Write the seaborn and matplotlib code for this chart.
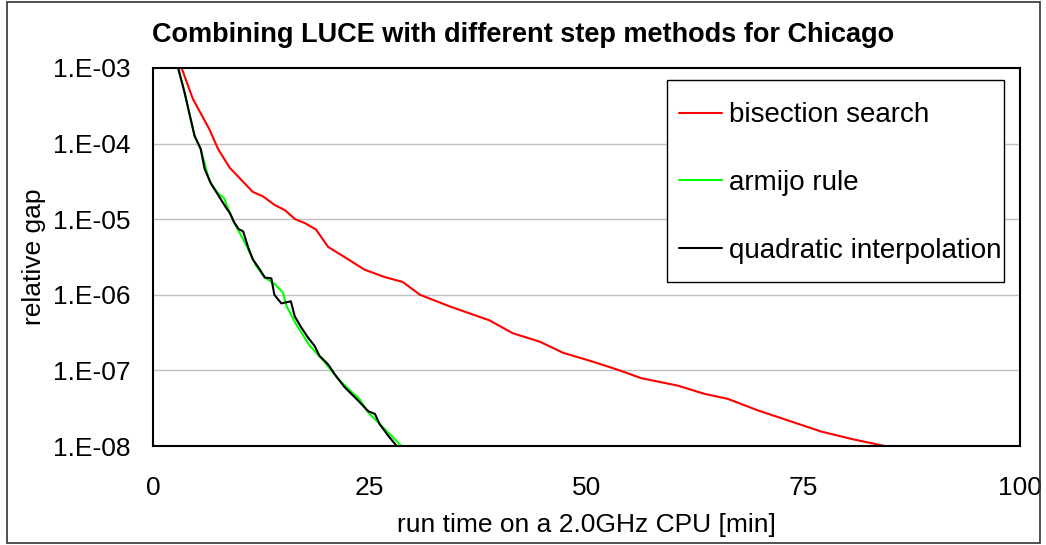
import numpy as np
import pandas as pd
import matplotlib
matplotlib.use("Agg")
import matplotlib.pyplot as plt
from matplotlib.patches import Rectangle
import seaborn as sns

# ---- data ----
bisect_x = [3.0, 3.3, 4.6, 6.5, 7.5, 8.85, 11.5, 12.7, 14.0, 15.2, 16.4, 17.5, 18.8, 20.2,
            22.2, 24.4, 26.7, 28.8, 30.8, 34.4, 38.8, 41.5, 44.6, 47.3, 50.4, 53.5, 56.3,
            60.5, 63.6, 66.3, 69.8, 73.4, 77.1, 80.7, 84.4]
bisect_y = [1.25e-3, 1.0e-3, 3.9e-4, 1.55e-4, 8.5e-5, 4.8e-5, 2.3e-5, 2.0e-5, 1.55e-5, 1.32e-5,
            1.0e-5, 8.9e-6, 7.3e-6, 4.3e-6, 3.1e-6, 2.15e-6, 1.72e-6, 1.48e-6, 1.0e-6, 6.9e-7,
            4.6e-7, 3.1e-7, 2.4e-7, 1.71e-7, 1.34e-7, 1.03e-7, 7.9e-8, 6.3e-8, 4.9e-8, 4.2e-8,
            2.95e-8, 2.15e-8, 1.55e-8, 1.23e-8, 1.0e-8]

armijo_x = [2.6, 2.9, 3.65, 4.23, 4.8, 5.5, 6.5, 7.5, 8.2, 8.85, 9.6, 10.6, 11.9, 12.9, 14.0,
            15.0, 15.4, 16.5, 18.1, 19.8, 21.3, 22.6, 23.8, 24.8, 26.9, 28.65]
armijo_y = [1.3e-3, 1.0e-3, 4.7e-4, 2.4e-4, 1.26e-4, 8.5e-5, 3.2e-5, 2.2e-5, 1.9e-5, 1.22e-5,
            8.0e-6, 4.9e-6, 2.4e-6, 1.69e-6, 1.4e-6, 1.07e-6, 7.1e-7, 4.1e-7, 2.1e-7, 1.29e-7,
            7.8e-8, 5.6e-8, 4.2e-8, 2.8e-8, 1.6e-8, 1.0e-8]

quad_x = [2.6, 2.9, 3.65, 4.23, 4.8, 5.5, 5.96, 6.73, 7.5, 8.46, 8.85, 9.35, 9.88, 10.4, 10.96,
          11.5, 12.3, 12.9, 13.65, 14.0, 14.8, 15.9, 16.35, 17.1, 17.9, 18.65, 19.2, 20.2,
          20.96, 22.1, 23.65, 24.8, 25.6, 26.15, 27.1, 28.1]
quad_y = [1.3e-3, 1.0e-3, 4.7e-4, 2.4e-4, 1.26e-4, 8.5e-5, 4.6e-5, 2.9e-5, 2.1e-5, 1.4e-5,
          1.22e-5, 9.1e-6, 7.4e-6, 6.9e-6, 4.3e-6, 2.96e-6, 2.18e-6, 1.69e-6, 1.65e-6, 1.0e-6,
          7.7e-7, 8.2e-7, 5.2e-7, 3.7e-7, 2.7e-7, 2.1e-7, 1.56e-7, 1.2e-7, 8.9e-8, 6.0e-8,
          4.0e-8, 2.9e-8, 2.65e-8, 1.94e-8, 1.38e-8, 1.0e-8]

series_names = ["bisection search", "armijo rule", "quadratic interpolation"]
series_colors = ["#FF0000", "#00FF00", "#000000"]
y_ticks = [1e-8, 1e-7, 1e-6, 1e-5, 1e-4, 1e-3]
y_tick_labels = ["1.E-08", "1.E-07", "1.E-06", "1.E-05", "1.E-04", "1.E-03"]
x_ticks = [0, 25, 50, 75, 100]
title = "Combining LUCE with different step methods for Chicago"
xlabel = "run time on a 2.0GHz CPU [min]"
ylabel = "relative gap"

df = pd.concat([
    pd.DataFrame({"x": bisect_x, "y": bisect_y, "method": series_names[0]}),
    pd.DataFrame({"x": armijo_x, "y": armijo_y, "method": series_names[1]}),
    pd.DataFrame({"x": quad_x, "y": quad_y, "method": series_names[2]}),
], ignore_index=True)

sns.set_style("white")
plt.rcParams["font.family"] = ["Liberation Sans", "DejaVu Sans"]
plt.rcParams["text.color"] = "black"
plt.rcParams["axes.labelcolor"] = "black"
plt.rcParams["xtick.color"] = "black"
plt.rcParams["ytick.color"] = "black"

W, H = 1046, 545
fig = plt.figure(figsize=(W / 100, H / 100), dpi=100)
ax = fig.add_axes([153 / W, 1 - 446 / H, (1020 - 153) / W, (446 - 68) / H])

sns.lineplot(data=df, x="x", y="y", hue="method", hue_order=series_names,
             palette=dict(zip(series_names, series_colors)), estimator=None,
             sort=False, linewidth=1.5, ax=ax)

ax.set_yscale("log")
ax.set_xlim(0, 100)
ax.set_ylim(1e-8, 1e-3)
ax.set_yticks(y_ticks)
ax.set_yticklabels(y_tick_labels)
ax.yaxis.set_minor_locator(matplotlib.ticker.NullLocator())
ax.set_xticks(x_ticks)
ax.set_xticklabels([str(t) for t in x_ticks])

ax.grid(False)
for t in y_ticks[1:-1]:
    ax.axhline(t, color="#c0c0c0", linewidth=1.0, zorder=0)

for s in ax.spines.values():
    s.set_color("black")
    s.set_linewidth(1.5)
    s.set_visible(True)

ax.tick_params(axis="y", which="major", direction="out", length=5.8, width=1,
               color="black", labelsize=19, pad=10.5, labelcolor="black")
ax.tick_params(axis="x", which="major", direction="out", length=6.5, width=1,
               color="black", labelsize=19, pad=15, labelcolor="black")

ax.set_xlabel(xlabel, fontsize=19, labelpad=9.8)
ax.set_ylabel(ylabel, fontsize=19, labelpad=4.5)
fig.text(0.5, 1 - 42 / H, title, ha="center", va="baseline", fontsize=19.5,
         fontweight="bold", color="black")

leg = ax.legend(loc="center left", bbox_to_anchor=(679 / W, 1 - 183 / H),
                bbox_transform=fig.transFigure, borderaxespad=0, frameon=False,
                fontsize=20, handlelength=1.55, handletextpad=0.25,
                labelspacing=1.5, borderpad=0, title=None)
for line in leg.get_lines():
    line.set_linewidth(1.5)
for txt in leg.get_texts():
    txt.set_color("black")
leg.set_zorder(6)

# legend frame (drawn beneath the legend entries)
frame = Rectangle((667 / W, 1 - 282 / H), (1004 - 667) / W, (282 - 80) / H,
                  transform=fig.transFigure, fill=True, facecolor="white",
                  edgecolor="black", linewidth=1.0, zorder=5, clip_on=False)
ax.add_patch(frame)

# outer chart border
fig.patches.append(Rectangle((7 / W, 2 / H), (1040 - 7) / W, (543 - 2) / H,
                             transform=fig.transFigure, fill=False,
                             edgecolor="#333333", linewidth=1.2))

fig.savefig("out.png", dpi=100)
